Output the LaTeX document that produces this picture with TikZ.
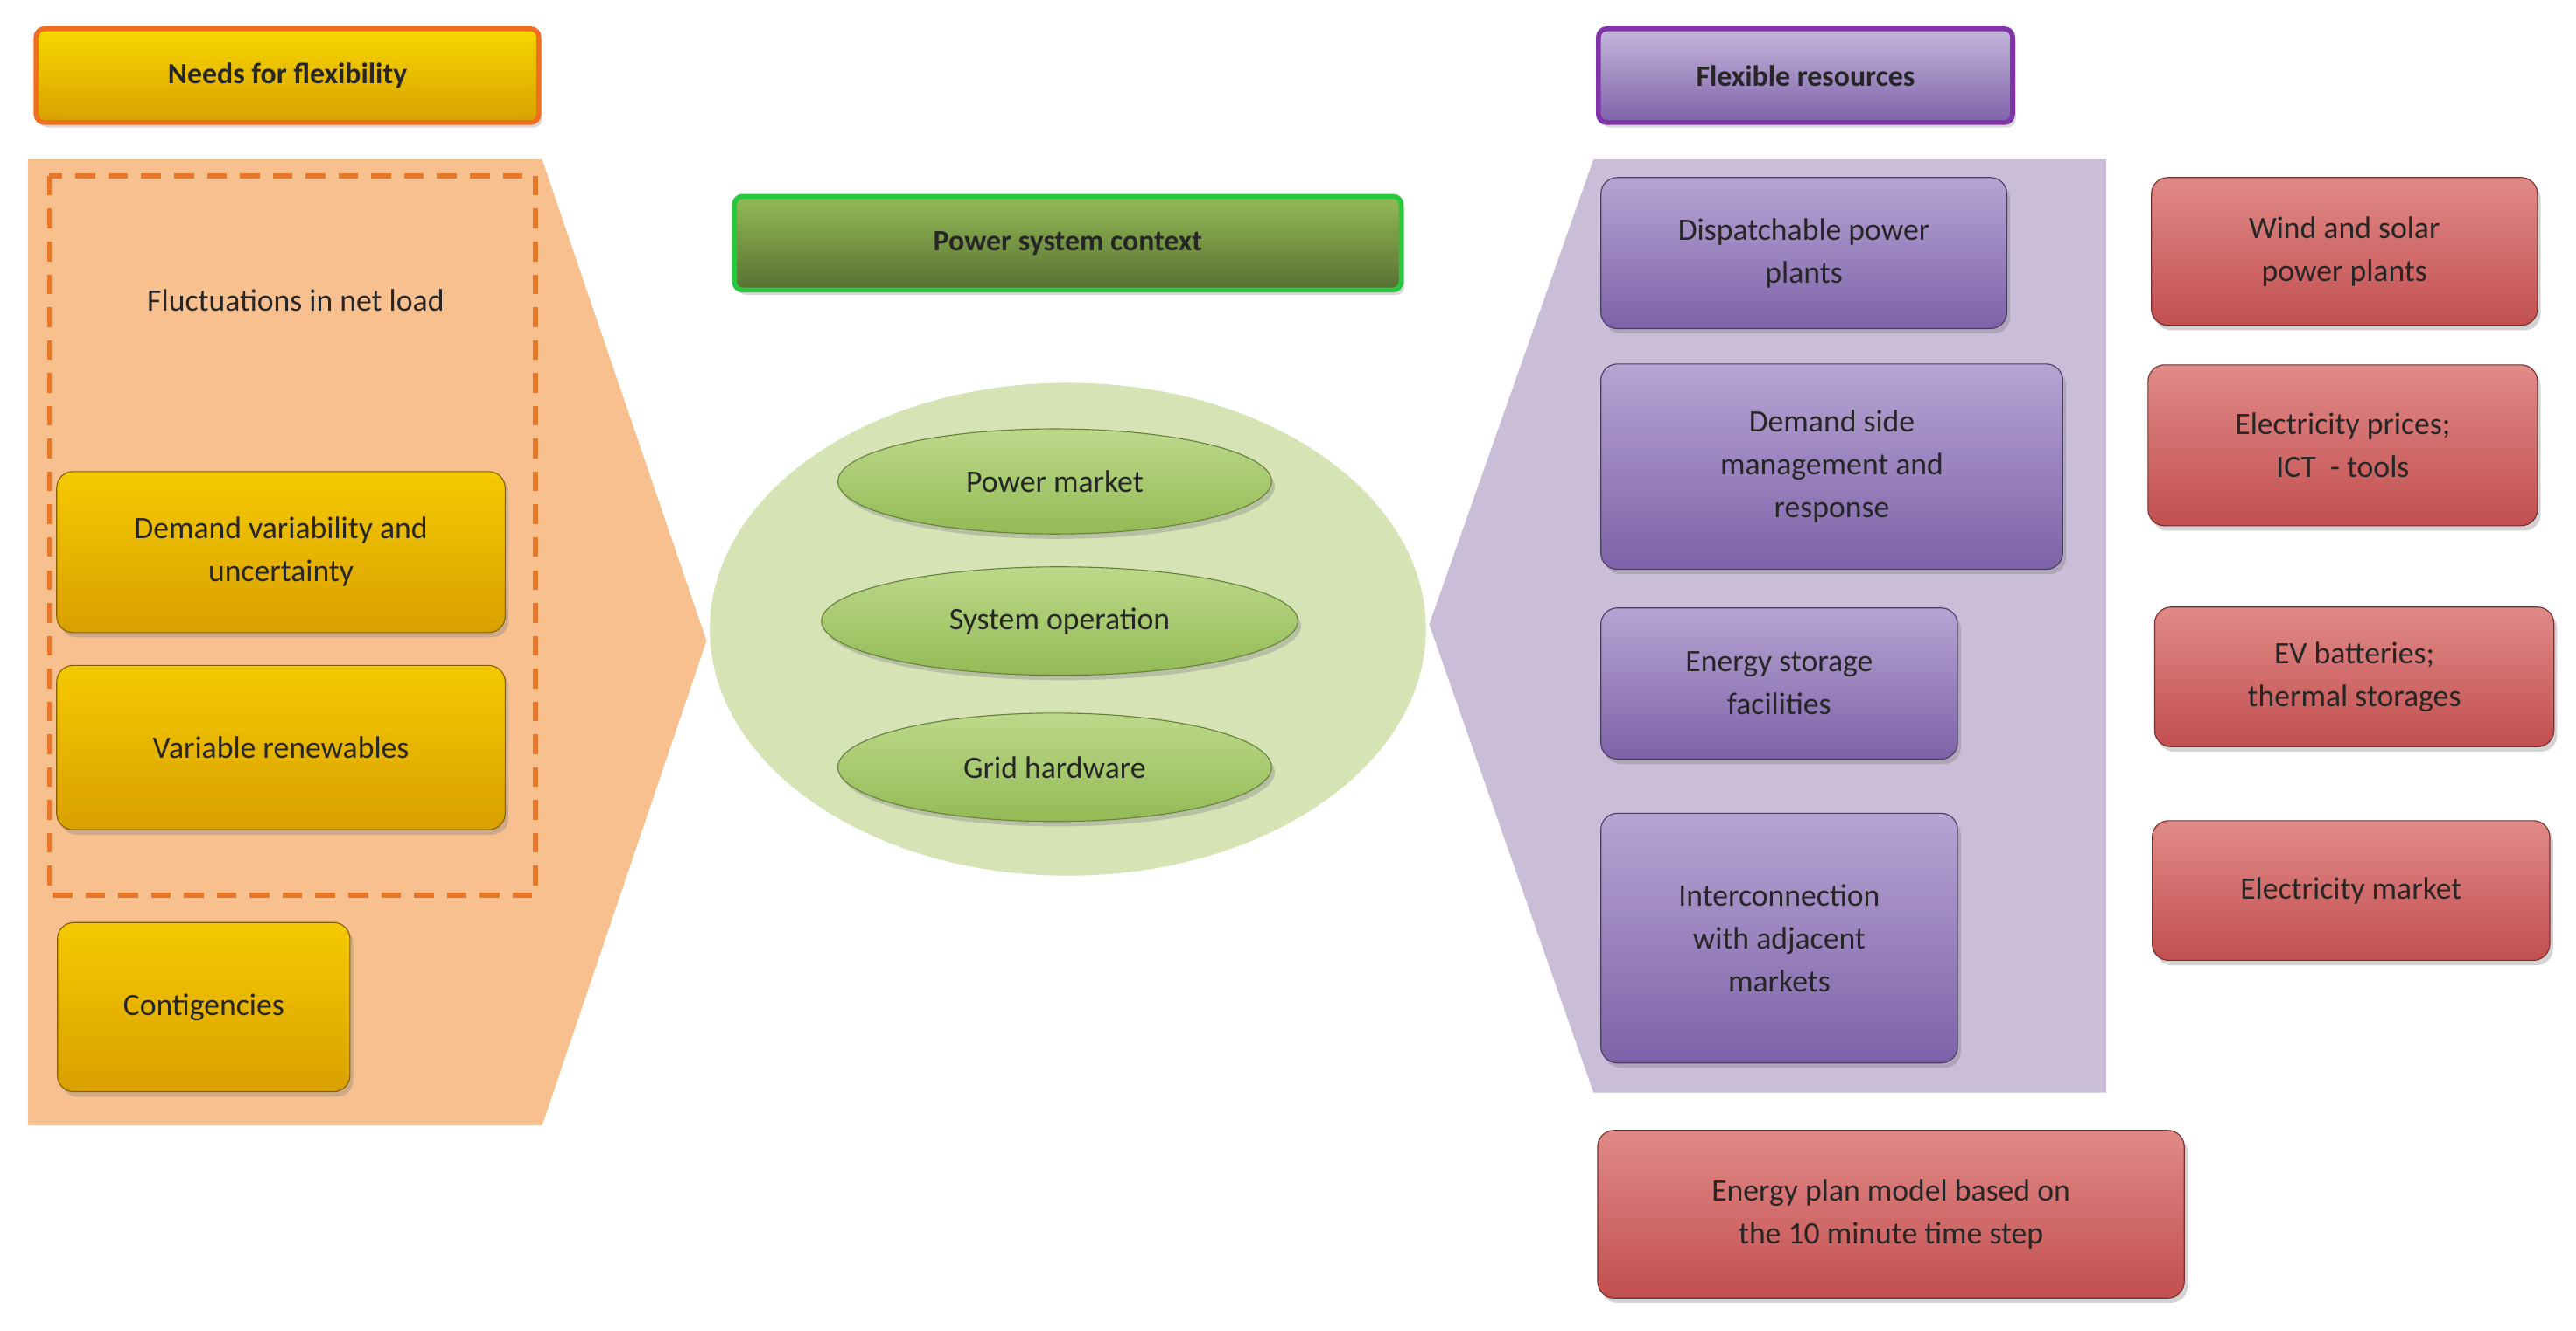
\documentclass[tikz,border=0pt]{standalone}
\usepackage{fontspec}
\setmainfont{Carlito}
\usetikzlibrary{shadows,shapes.geometric}
\definecolor{gold}{HTML}{F2BC00}
\definecolor{goldd}{HTML}{D9A000}
\definecolor{pur}{HTML}{9E86C4}
\definecolor{purd}{HTML}{7E62A8}
\definecolor{red1}{HTML}{E08A88}
\definecolor{red2}{HTML}{C24F4F}
\definecolor{grn1}{HTML}{BCD98A}
\definecolor{grn2}{HTML}{93BA55}
\tikzset{
 box/.style={rounded corners=10pt,draw=#1!60!black,line width=0.6pt,drop shadow={shadow xshift=2pt,shadow yshift=-3pt,opacity=0.35},align=center,text=black!85,font=\fontsize{19}{26}\selectfont,inner sep=0pt},
 goldbox/.style={box=goldd,top color=gold!80!yellow,bottom color=goldd},
 purbox/.style={box=purd,top color=pur!75!white,bottom color=purd},
 redbox/.style={box=red2,top color=red1,bottom color=red2},
 ell/.style={draw=grn2!70!black,line width=0.6pt,top color=grn1,bottom color=grn2,drop shadow={shadow xshift=2pt,shadow yshift=-3pt,opacity=0.35},text=black!85,font=\fontsize{19}{26}\selectfont},
 head/.style={rounded corners=5pt,line width=3pt,align=center,font=\bfseries\fontsize{18}{24}\selectfont,text=black!85,drop shadow={shadow xshift=2pt,shadow yshift=-3pt,opacity=0.3}}
}
\begin{document}
\begin{tikzpicture}[x=1pt,y=-1pt]
\useasboundingbox (0,0) rectangle (1568,810);
% left panel
\fill[fill={rgb,255:red,249;green,192;blue,143}] (17,97)--(330,97)--(430,390)--(330,685)--(17,685)--cycle;
\draw[dashed,draw={rgb,255:red,230;green,120;blue,40},line width=3pt,dash pattern=on 12pt off 8pt] (30,107) rectangle (326,545);
\node[font=\fontsize{19}{26}\selectfont,text=black!85] (fl) at (180,183) {Fluctuations in net load};
\node[head,draw={rgb,255:red,240;green,110;blue,30},top color=gold!60!yellow,bottom color=goldd,minimum width=306pt,minimum height=57pt] (nf) at (175,46) {Needs for flexibility};
\node[goldbox,minimum width=273pt,minimum height=98pt] (dv) at (171,336) {Demand variability and\\uncertainty};
\node[goldbox,minimum width=273pt,minimum height=100pt] (vr) at (171,455) {Variable renewables};
\node[goldbox,minimum width=178pt,minimum height=103pt] (co) at (124,613) {Contigencies};
% centre
\node[head,draw={rgb,255:red,40;green,200;blue,60},top color=grn2,bottom color=grn2!60!black,minimum width=406pt,minimum height=57pt] (ps) at (650,148) {Power system context};
\fill[fill={rgb,255:red,213;green,227;blue,181}] (650,383) ellipse [x radius=218,y radius=150];
\node[ell,ellipse,inner sep=0pt,minimum width=264pt,minimum height=64pt] (pm) at (642,293) {Power market};
\node[ell,ellipse,inner sep=0pt,minimum width=290pt,minimum height=66pt] (so) at (645,378) {System operation};
\node[ell,ellipse,inner sep=0pt,minimum width=264pt,minimum height=66pt] (gh) at (642,467) {Grid hardware};
% right panel
\fill[fill={rgb,255:red,201;green,189;blue,216}] (870,380)--(970,97)--(1282,97)--(1282,665)--(970,665)--cycle;
\node[head,draw={rgb,255:red,130;green,50;blue,170},top color=pur!60!white,bottom color=purd,minimum width=252pt,minimum height=57pt] (fr) at (1099,46) {Flexible resources};
\node[purbox,minimum width=247pt,minimum height=92pt] (dp) at (1098,154) {Dispatchable power\\plants};
\node[purbox,minimum width=281pt,minimum height=125pt] (ds) at (1115,284) {Demand side\\management and\\response};
\node[purbox,minimum width=217pt,minimum height=92pt] (es) at (1083,416) {Energy storage\\facilities};
\node[purbox,minimum width=217pt,minimum height=152pt] (ic) at (1083,571) {Interconnection\\with adjacent\\markets};
\node[redbox,minimum width=235pt,minimum height=90pt] (ws) at (1427,153) {Wind and solar\\power plants};
\node[redbox,minimum width=237pt,minimum height=98pt] (ep) at (1426,271) {Electricity prices;\\ICT\ \ - tools};
\node[redbox,minimum width=243pt,minimum height=85pt] (ev) at (1433,412) {EV batteries;\\thermal storages};
\node[redbox,minimum width=242pt,minimum height=85pt] (em) at (1431,542) {Electricity market};
\node[redbox,minimum width=357pt,minimum height=102pt] (pl) at (1151,739) {Energy plan model based on\\the 10 minute time step};
\end{tikzpicture}
\end{document}
